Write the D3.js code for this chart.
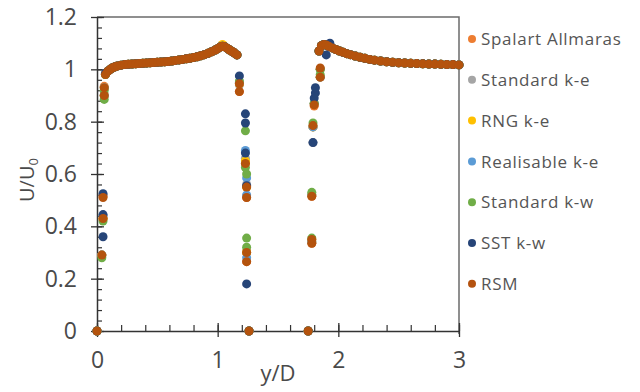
<!DOCTYPE html>
<html>
<head>
<meta charset="utf-8">
<script src="https://cdn.jsdelivr.net/npm/d3@7"></script>
<style>
  body { margin: 0; background: #fff; }
  svg { font-family: "Open Sans", sans-serif; }
</style>
</head>
<body>
<svg id="chart" width="640" height="392"></svg>
<script>
// legend / series names
var seriesNames = ['Spalart Allmaras', 'Standard k-e', 'RNG k-e', 'Realisable k-e', 'Standard k-w', 'SST k-w', 'RSM'];
var seriesColors = ['#ED7D31', '#A5A5A5', '#FFC000', '#5B9BD5', '#70AD47', '#264478', '#B4520F'];

// shared profile (all models sit on top of each other here)
var coreX = [0.09, 0.11, 0.13, 0.15, 0.17, 0.2, 0.23, 0.26, 0.29, 0.32, 0.35, 0.38, 0.41, 0.44, 0.47, 0.5, 0.53, 0.56, 0.59, 0.62,
             0.65, 0.68, 0.71, 0.74, 0.77, 0.8, 0.83, 0.86, 0.89, 0.92, 0.95, 0.98, 1.0, 1.02, 1.04, 1.06, 1.08, 1.1, 1.12, 1.14, 1.16,
             1.84, 1.86, 1.88, 1.9, 1.92, 1.95, 1.98, 2.01, 2.04, 2.07, 2.1, 2.14, 2.18, 2.22, 2.26, 2.3, 2.35, 2.4, 2.45, 2.5,
             2.55, 2.6, 2.65, 2.7, 2.75, 2.8, 2.85, 2.9, 2.95, 3.0];
var coreU = [0.993, 1.0, 1.006, 1.01, 1.013, 1.016, 1.018, 1.019, 1.02, 1.021, 1.022, 1.023, 1.024, 1.025, 1.026, 1.027, 1.028, 1.029, 1.03, 1.032,
             1.034, 1.036, 1.038, 1.04, 1.042, 1.045, 1.048, 1.052, 1.056, 1.061, 1.067, 1.074, 1.079, 1.085, 1.088, 1.086, 1.08, 1.074, 1.068, 1.062, 1.055,
             1.07, 1.09, 1.095, 1.093, 1.088, 1.082, 1.076, 1.07, 1.065, 1.06, 1.056, 1.051, 1.046, 1.042, 1.038, 1.035, 1.032, 1.029, 1.027, 1.025,
             1.024, 1.023, 1.022, 1.021, 1.02, 1.02, 1.019, 1.018, 1.018, 1.017];

// points near the walls, different for every model: [y/D, U/U0]
var saPts  = [[0, 0], [0.04, 0.29], [0.05, 0.43], [0.05, 0.515], [0.06, 0.9], [0.06, 0.935], [0.07, 0.98],
              [1.18, 0.945], [1.18, 0.915], [1.23, 0.64], [1.24, 0.55], [1.24, 0.51], [1.24, 0.3], [1.24, 0.265], [1.26, 0],
              [1.75, 0], [1.78, 0.335], [1.78, 0.35], [1.78, 0.515], [1.79, 0.78], [1.8, 0.86], [1.85, 0.97], [1.85, 1.0]];
var skePts = [[0, 0], [0.04, 0.29], [0.05, 0.43], [0.05, 0.52], [0.06, 0.9], [0.06, 0.93], [0.07, 0.98],
              [1.18, 0.94], [1.23, 0.66], [1.24, 0.56], [1.24, 0.3], [1.26, 0],
              [1.75, 0], [1.78, 0.34], [1.78, 0.52], [1.79, 0.72], [1.79, 0.78], [1.8, 0.87], [1.85, 0.97], [1.85, 1.0]];
var rngPts = [[0, 0], [0.04, 0.29], [0.05, 0.43], [0.06, 0.9], [0.06, 0.93], [0.07, 0.98],
              [1.18, 0.945], [1.23, 0.65], [1.24, 0.55], [1.24, 0.3], [1.26, 0], [1.04, 1.095],
              [1.75, 0], [1.78, 0.34], [1.78, 0.52], [1.79, 0.78], [1.8, 0.87], [1.85, 0.97], [1.85, 1.0]];
var rkePts = [[0, 0], [0.04, 0.29], [0.05, 0.44], [0.06, 0.9], [0.06, 0.93], [0.07, 0.98],
              [1.18, 0.95], [1.23, 0.69], [1.24, 0.585], [1.24, 0.52], [1.24, 0.28], [1.26, 0],
              [1.75, 0], [1.78, 0.34], [1.78, 0.52], [1.79, 0.78], [1.8, 0.87], [1.85, 0.97], [1.85, 1.0]];
var skwPts = [[0, 0], [0.04, 0.28], [0.05, 0.42], [0.06, 0.885], [0.06, 0.92], [0.07, 0.98],
              [1.18, 0.955], [1.23, 0.765], [1.23, 0.625], [1.24, 0.6], [1.24, 0.355], [1.24, 0.32], [1.26, 0],
              [1.75, 0], [1.78, 0.355], [1.78, 0.53], [1.79, 0.795], [1.8, 0.87], [1.85, 0.98], [1.85, 1.0]];
var sstPts = [[0, 0], [0.05, 0.36], [0.05, 0.445], [0.05, 0.525], [0.07, 0.985],
              [1.18, 0.975], [1.23, 0.83], [1.23, 0.795], [1.23, 0.68], [1.24, 0.555], [1.24, 0.18], [1.26, 0],
              [1.75, 0], [1.79, 0.72], [1.8, 0.89], [1.81, 0.91], [1.81, 0.93], [1.9, 1.055], [1.93, 1.1]];
var rsmPts = [[0, 0], [0.04, 0.29], [0.05, 0.43], [0.05, 0.51], [0.06, 0.9], [0.06, 0.93], [0.07, 0.98],
              [1.18, 0.945], [1.18, 0.915], [1.23, 0.64], [1.24, 0.55], [1.24, 0.51], [1.24, 0.3], [1.24, 0.265], [1.26, 0],
              [1.75, 0], [1.78, 0.335], [1.78, 0.35], [1.78, 0.515], [1.79, 0.785], [1.8, 0.864], [1.85, 0.97], [1.85, 1.005]];
var seriesPts = [saPts, skePts, rngPts, rkePts, skwPts, sstPts, rsmPts];

var xTicks = [0, 1, 2, 3];
var yTicks = [0, 0.2, 0.4, 0.6, 0.8, 1, 1.2];

var svg = d3.select('#chart');
var pLeft = 97, pRight = 459, pTop = 17, pBottom = 331;

var x = d3.scaleLinear().domain([0, 3]).range([pLeft, pRight]);
var y = d3.scaleLinear().domain([0, 1.2]).range([pBottom, pTop]);

// the source is a soft, slightly blurred screenshot
svg.append('defs').append('filter').attr('id', 'soft')
    .append('feGaussianBlur').attr('stdDeviation', 0.45);

// frame: top and right edges
svg.append('path')
    .attr('d', 'M' + pLeft + ',' + pTop + 'H' + pRight + 'V' + (pBottom + 3))
    .attr('fill', 'none').attr('stroke', '#6b6b6b').attr('stroke-width', 1.5);

// minor ticks
svg.append('g').attr('transform', 'translate(' + pLeft + ',0)')
    .call(d3.axisRight(y).tickValues(d3.range(0, 1.2001, 0.04)).tickSize(5).tickFormat(''))
    .call(function (g) { g.select('.domain').remove(); g.selectAll('line').attr('stroke', '#333').attr('stroke-width', 1.2); });
svg.append('g').attr('transform', 'translate(0,' + pBottom + ')')
    .call(d3.axisTop(x).tickValues(d3.range(0, 3.001, 0.2)).tickSize(6).tickFormat(''))
    .call(function (g) { g.select('.domain').remove(); g.selectAll('line').attr('stroke', '#333').attr('stroke-width', 1.2); });

// y axis
svg.append('g').attr('transform', 'translate(' + pLeft + ',0)')
    .call(d3.axisLeft(y).tickValues(yTicks).tickSizeInner(6).tickSizeOuter(0).tickPadding(14).tickFormat(d3.format('~g')))
    .call(function (g) {
        g.select('.domain').attr('stroke', '#333').attr('stroke-width', 1.5);
        g.selectAll('line').attr('x1', 7).attr('x2', -6).attr('stroke', '#333').attr('stroke-width', 1.3);
        g.selectAll('text').attr('font-size', 23).attr('fill', '#4a4a4a').attr('font-family', '"Open Sans", sans-serif');
    });

// x axis
svg.append('g').attr('transform', 'translate(0,' + pBottom + ')')
    .call(d3.axisBottom(x).tickValues(xTicks).tickSizeInner(6).tickSizeOuter(0).tickPadding(15).tickFormat(d3.format('~g')))
    .call(function (g) {
        g.select('.domain').attr('stroke', '#333').attr('stroke-width', 1.5);
        g.selectAll('line').attr('y1', -8).attr('y2', 6).attr('stroke', '#333').attr('stroke-width', 1.3);
        g.selectAll('text').attr('font-size', 23).attr('fill', '#4a4a4a').attr('font-family', '"Open Sans", sans-serif');
    });

// axis titles
svg.append('text').attr('x', (pLeft + pRight) / 2).attr('y', 381)
    .attr('text-anchor', 'middle').attr('font-size', 22).attr('fill', '#4a4a4a').text('y/D');
var yt = svg.append('text').attr('transform', 'translate(34,180) rotate(-90)')
    .attr('text-anchor', 'middle').attr('font-size', 20).attr('fill', '#4a4a4a');
yt.append('tspan').text('U/U');
yt.append('tspan').attr('font-size', 13).attr('dy', 4).text('0');

// points
var dots = svg.append('g').attr('filter', 'url(#soft)');
seriesNames.forEach(function (name, i) {
    var pts = coreX.map(function (d, j) { return [d, coreU[j]]; }).concat(seriesPts[i]);
    dots.append('g').selectAll('circle').data(pts).enter().append('circle')
        .attr('cx', function (d) { return x(d[0]); })
        .attr('cy', function (d) { return y(d[1]); })
        .attr('r', 4.5)
        .attr('fill', seriesColors[i]);
});

// legend
var lg = svg.append('g').selectAll('g').data(seriesNames).enter().append('g')
    .attr('transform', function (d, i) { return 'translate(472,' + (39 + i * 40.8) + ')'; });
lg.append('circle').attr('r', 4).attr('fill', function (d, i) { return seriesColors[i]; });
lg.append('text').attr('x', 9).attr('dy', '0.36em').attr('font-size', 17).attr('letter-spacing', 0.7)
    .attr('fill', '#555').text(function (d) { return d; });
</script>
</body>
</html>
